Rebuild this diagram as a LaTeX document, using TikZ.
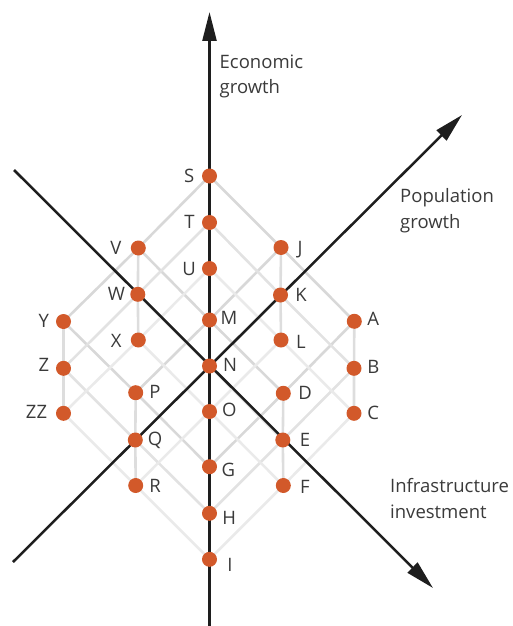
\documentclass[tikz,border=0pt]{standalone}
\usepackage{fontspec}
\setmainfont{Open Sans}
\usetikzlibrary{arrows.meta}
\definecolor{dotc}{HTML}{D2592A}
\definecolor{txt}{HTML}{3A3A3A}
\definecolor{axc}{HTML}{1E1E1E}
\definecolor{gA}{HTML}{D8D8D8}
\definecolor{gB}{HTML}{E2E2E2}
\definecolor{gC}{HTML}{EAEAEA}
\definecolor{gV}{HTML}{DDDDDD}
\pgfdeclarelayer{bg}
\pgfsetlayers{bg,main}
\begin{document}
\begin{tikzpicture}[x=1pt,y=-1pt,
  dot/.style={circle,fill=dotc,minimum size=15pt,inner sep=0pt},
  lab/.style={text=txt,font=\fontsize{18.5}{25}\selectfont,inner sep=0pt,anchor=base},
  axlab/.style={text=txt,font=\fontsize{18.5}{25.5}\selectfont,inner sep=0pt,anchor=base west,align=left},
  axisline/.style={draw=axc,line width=2.5pt,-{Triangle[length=29pt,width=14pt]}},
  ea/.style={draw=gA,line width=2.6pt},
  eb/.style={draw=gB,line width=2.6pt},
  ec/.style={draw=gC,line width=2.6pt},
  ev/.style={draw=gV,line width=2.6pt}]
\useasboundingbox (0,0) rectangle (513,626);

% axis end points
\coordinate (vb) at (209.5,626);
\coordinate (vt) at (209.5,12);
\coordinate (pb) at (13,562);
\coordinate (pt) at (462,115);
\coordinate (ib) at (14,170);
\coordinate (it) at (433,588);

% dots: top layer
\node[dot] (S) at (209.5,176) {};
\node[dot] (V) at (138.3,248) {};
\node[dot] (Y) at (63.5,321.5) {};
\node[dot] (J) at (281,247.5) {};
\node[dot] (M) at (209.5,320) {};
\node[dot] (P) at (135.7,392.7) {};
\node[dot] (A) at (354.3,321.3) {};
\node[dot] (D) at (283.3,393.3) {};
\node[dot] (G) at (209.5,466.7) {};
% middle layer
\node[dot] (T) at (209.5,222.5) {};
\node[dot] (W) at (137.8,294.3) {};
\node[dot] (Z) at (63.5,368.3) {};
\node[dot] (K) at (280.5,295) {};
\node[dot] (N) at (209.5,366) {};
\node[dot] (Q) at (135.3,440) {};
\node[dot] (B) at (354,368.3) {};
\node[dot] (E) at (282.8,440) {};
\node[dot] (H) at (209.5,513.3) {};
% bottom layer
\node[dot] (U) at (209.5,268.5) {};
\node[dot] (X) at (138.3,340) {};
\node[dot] (ZZ) at (63.5,413.3) {};
\node[dot] (L) at (281,340) {};
\node[dot] (O) at (209.5,411.5) {};
\node[dot] (R) at (135.7,485.5) {};
\node[dot] (C) at (354,413.3) {};
\node[dot] (F) at (283.3,485.5) {};
\node[dot] (I) at (209.5,559.3) {};

\begin{pgfonlayer}{bg}
% top layer edges
\draw[ea] (S.center) -- (V.center) -- (Y.center);
\draw[ea] (J.center) -- (M.center) -- (P.center);
\draw[ea] (A.center) -- (D.center) -- (G.center);
\draw[ea] (S.center) -- (J.center) -- (A.center);
\draw[ea] (V.center) -- (M.center) -- (D.center);
\draw[ea] (Y.center) -- (P.center) -- (G.center);
% middle layer edges
\draw[eb] (T.center) -- (W.center) -- (Z.center);
\draw[eb] (K.center) -- (N.center) -- (Q.center);
\draw[eb] (B.center) -- (E.center) -- (H.center);
\draw[eb] (T.center) -- (K.center) -- (B.center);
\draw[eb] (W.center) -- (N.center) -- (E.center);
\draw[eb] (Z.center) -- (Q.center) -- (H.center);
% bottom layer edges
\draw[ec] (U.center) -- (X.center) -- (ZZ.center);
\draw[ec] (L.center) -- (O.center) -- (R.center);
\draw[ec] (C.center) -- (F.center) -- (I.center);
\draw[ec] (U.center) -- (L.center) -- (C.center);
\draw[ec] (X.center) -- (O.center) -- (F.center);
\draw[ec] (ZZ.center) -- (R.center) -- (I.center);
% vertical edges
\draw[ev] (V.center) -- (W.center) -- (X.center);
\draw[ev] (Y.center) -- (Z.center) -- (ZZ.center);
\draw[ev] (J.center) -- (K.center) -- (L.center);
\draw[ev] (A.center) -- (B.center) -- (C.center);
\draw[ev] (P.center) -- (Q.center) -- (R.center);
\draw[ev] (D.center) -- (E.center) -- (F.center);
% axes
\draw[axisline] (vb) -- (vt);
\draw[axisline] (pb) -- (pt);
\draw[axisline] (ib) -- (it);
\end{pgfonlayer}

% point labels
\node[lab] (lS) at (189.2,182.4) {S};
\node[lab] (lT) at (189.5,228.3) {T};
\node[lab] (lU) at (189,275.6) {U};
\node[lab] (lV) at (116,254.1) {V};
\node[lab] (lW) at (116.5,300.6) {W};
\node[lab] (lX) at (116.3,347.6) {X};
\node[lab] (lY) at (43.8,327.1) {Y};
\node[lab] (lZ) at (44,371.6) {Z};
\node[lab] (lZZ) at (36.5,418.6) {ZZ};
\node[lab] (lM) at (229,324.1) {M};
\node[lab] (lN) at (230,371.6) {N};
\node[lab] (lO) at (229.3,416.6) {O};
\node[lab] (lG) at (228.3,476.6) {G};
\node[lab] (lH) at (229.3,524.9) {H};
\node[lab] (lI) at (230,571.1) {I};
\node[lab] (lJ) at (300,254.6) {J};
\node[lab] (lK) at (301,301.6) {K};
\node[lab] (lL) at (301,348.3) {L};
\node[lab] (lA) at (373.3,325.9) {A};
\node[lab] (lB) at (373.3,373.3) {B};
\node[lab] (lC) at (373.3,419.3) {C};
\node[lab] (lD) at (305,399.9) {D};
\node[lab] (lE) at (305,446.6) {E};
\node[lab] (lF) at (305,493.3) {F};
\node[lab] (lP) at (155,398.3) {P};
\node[lab] (lQ) at (155,445.6) {Q};
\node[lab] (lR) at (155,492.6) {R};

% axis labels (anchor is the baseline of the last line)
\node[axlab] (econ) at (219.5,93.5) {Economic\\growth};
\node[axlab] (popu) at (400,228) {Population\\growth};
\node[axlab] (infra) at (390,518) {Infrastructure\\investment};
\end{tikzpicture}
\end{document}
